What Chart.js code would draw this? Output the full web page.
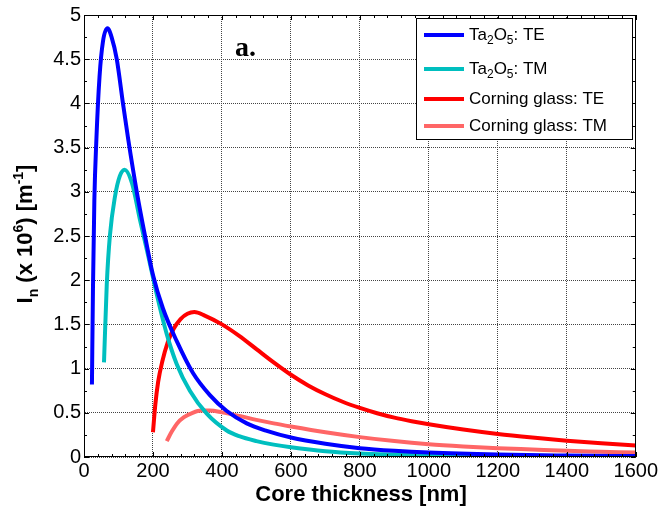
<!DOCTYPE html>
<html>
<head>
<meta charset="utf-8">
<script src="https://cdn.jsdelivr.net/npm/chart.js@4/dist/chart.umd.min.js"></script>
<style>html,body{margin:0;padding:0;background:#fff;}canvas{display:block;}</style>
</head>
<body>
<canvas id="c" width="660" height="510"></canvas>
<script>
// ---- data (core thickness in nm, I_n in 10^6 m^-1) ----
const xTicks = [0,200,400,600,800,1000,1200,1400,1600];
const yTicks = [0,0.5,1,1.5,2,2.5,3,3.5,4,4.5,5];

const taTE_x = [23,26,30,36,45,55,68,80,95,113,128,153,177,200,229,269,316,365,414,472,530,600,700,800,900,1000,1200,1400,1600];
const taTE_y = [0.82,1.9,2.9,3.6,4.3,4.7,4.85,4.75,4.5,4.0,3.6,3.0,2.5,2.06,1.68,1.31,0.95,0.7,0.52,0.38,0.295,0.22,0.15,0.1,0.07,0.05,0.028,0.017,0.01];

const taTM_x = [58,66,75,90,104,118,139,162,186,211,240,269,307,356,414,450,500,550,600,700,800,900,1000,1200,1400,1600];
const taTM_y = [1.07,1.95,2.5,2.95,3.18,3.25,3.1,2.69,2.28,1.84,1.39,1.05,0.75,0.49,0.3,0.235,0.18,0.14,0.11,0.065,0.04,0.027,0.018,0.01,0.007,0.005];

const cgTE_x = [200,207,215,227,243,260,280,300,320,350,400,450,500,550,600,650,700,750,800,850,900,950,1000,1100,1200,1300,1400,1500,1600];
const cgTE_y = [0.28,0.6,0.85,1.08,1.3,1.45,1.56,1.62,1.64,1.6,1.5,1.37,1.22,1.07,0.93,0.81,0.71,0.625,0.555,0.495,0.445,0.405,0.37,0.31,0.26,0.22,0.185,0.155,0.13];

const cgTM_x = [240,255,270,290,315,340,365,400,450,500,550,600,700,800,900,1000,1100,1200,1300,1400,1500,1600];
const cgTM_y = [0.18,0.29,0.38,0.45,0.5,0.525,0.525,0.505,0.465,0.42,0.38,0.345,0.28,0.225,0.18,0.145,0.12,0.1,0.085,0.07,0.06,0.05];

const seriesNames = ['Ta2O5: TE','Ta2O5: TM','Corning glass: TE','Corning glass: TM'];
const seriesColors = ['#0000ff','#00bfbf','#ff0000','#ff6666'];

const pts = (xs, ys) => xs.map((x,i)=>({x:x, y:ys[i]}));
const allSeries = [[taTE_x,taTE_y],[taTM_x,taTM_y],[cgTE_x,cgTE_y],[cgTM_x,cgTM_y]];

const FONT = '"Liberation Sans", Arial, sans-serif';

const decorPlugin = {
  id: 'decor',
  afterDraw(chart) {
    const ctx = chart.ctx;
    const a = chart.chartArea;
    const xs = chart.scales.x, ys = chart.scales.y;
    ctx.save();
    // box
    ctx.strokeStyle = '#000';
    ctx.lineWidth = 1;
    ctx.strokeRect(Math.round(a.left)+0.5, Math.round(a.top)+0.5, Math.round(a.right-a.left)-1, Math.round(a.bottom-a.top)-1);
    // ticks
    ctx.beginPath();
    for (let v = 0; v <= 1600; v += 40) {
      const px = Math.round(xs.getPixelForValue(v)) + 0.5;
      const len = (v % 200 === 0) ? 5 : 3;
      ctx.moveTo(px, a.bottom); ctx.lineTo(px, a.bottom - len);
      ctx.moveTo(px, a.top); ctx.lineTo(px, a.top + len);
    }
    for (let v = 0; v <= 5.0001; v += 0.25) {
      const py = Math.round(ys.getPixelForValue(v)) + 0.5;
      const len = (Math.abs(v*2 - Math.round(v*2)) < 1e-6) ? 5 : 3;
      ctx.moveTo(a.left, py); ctx.lineTo(a.left + len, py);
      ctx.moveTo(a.right, py); ctx.lineTo(a.right - len, py);
    }
    ctx.stroke();

    // legend
    const lx = 416, ly = 18, lw = 216, lh = 121;
    ctx.fillStyle = '#fff';
    ctx.fillRect(lx, ly, lw, lh);
    ctx.strokeStyle = '#000';
    ctx.lineWidth = 1;
    ctx.strokeRect(lx+0.5, ly+0.5, lw, lh);
    const rowsY = [35, 69, 99, 126];
    for (let i = 0; i < 4; i++) {
      const y = rowsY[i];
      ctx.strokeStyle = seriesColors[i];
      ctx.lineWidth = 4;
      ctx.beginPath(); ctx.moveTo(424, y); ctx.lineTo(464, y); ctx.stroke();
      ctx.fillStyle = '#000';
      ctx.textBaseline = 'middle';
      ctx.textAlign = 'left';
      let x = 469;
      const big = '17px ' + FONT, small = '12px ' + FONT;
      if (i < 2) {
        const parts = [['Ta',big,0],['2',small,6],['O',big,0],['5',small,6],[i===0?': TE':': TM',big,0]];
        for (const [t,f,dy] of parts) {
          ctx.font = f; ctx.fillText(t, x, y + dy); x += ctx.measureText(t).width;
        }
      } else {
        ctx.font = big;
        ctx.fillText(seriesNames[i], x, y);
      }
    }

    // "a." label
    ctx.fillStyle = '#000';
    ctx.font = 'bold 28px "Liberation Serif", "Times New Roman", serif';
    ctx.textAlign = 'left';
    ctx.textBaseline = 'alphabetic';
    ctx.fillText('a.', 235, 56);

    // x title
    ctx.font = 'bold 22px ' + FONT;
    ctx.textAlign = 'center';
    ctx.fillText('Core thickness [nm]', 361, 501);

    // y title with sub/superscripts
    ctx.save();
    ctx.translate(32, 234);
    ctx.rotate(-Math.PI/2);
    const B = 'bold 22px ' + FONT, S = 'bold 14px ' + FONT;
    const parts = [['I',B,0],['n',S,6],[' (x 10',B,0],['6',S,-9],[') [m',B,0],['-1',S,-9],[']',B,0]];
    let total = 0;
    for (const [t,f] of parts) { ctx.font = f; total += ctx.measureText(t).width; }
    let x = -total/2;
    ctx.textAlign = 'left';
    for (const [t,f,dy] of parts) {
      ctx.font = f; ctx.fillText(t, x, dy); x += ctx.measureText(t).width;
    }
    ctx.restore();
    ctx.restore();
  }
};

new Chart(document.getElementById('c'), {
  type: 'line',
  data: {
    datasets: allSeries.map((s, i) => ({
      label: seriesNames[i],
      data: pts(s[0], s[1]),
      borderColor: seriesColors[i],
      backgroundColor: seriesColors[i],
      borderWidth: 4,
      pointRadius: 0,
      fill: false,
      cubicInterpolationMode: 'monotone'
    }))
  },
  options: {
    responsive: false,
    animation: false,
    devicePixelRatio: 1,
    layout: { padding: { left: 0, top: 11, right: 24, bottom: 0 } },
    plugins: { legend: { display: false }, tooltip: { enabled: false } },
    scales: {
      x: {
        type: 'linear', min: 0, max: 1600,
        afterBuildTicks: (sc) => { sc.ticks = xTicks.map(v => ({value: v})); },
        afterFit: (sc) => { sc.height = 53; },
        ticks: { color: '#000', font: { family: FONT, size: 20 }, padding: 2, maxRotation: 0, autoSkip: false,
                 callback: (v) => String(v) },
        grid: { color: '#444', lineWidth: 1, drawTicks: false },
        border: { display: true, color: 'rgba(0,0,0,0)', dash: [1, 1] }
      },
      y: {
        type: 'linear', min: 0, max: 5,
        afterBuildTicks: (sc) => { sc.ticks = yTicks.map(v => ({value: v})); },
        afterFit: (sc) => { sc.width = 84; },
        ticks: { color: '#000', font: { family: FONT, size: 20 }, padding: 3, autoSkip: false,
                 callback: (v) => String(v) },
        grid: { color: '#444', lineWidth: 1, drawTicks: false },
        border: { display: true, color: 'rgba(0,0,0,0)', dash: [1, 1] }
      }
    }
  },
  plugins: [decorPlugin]
});
</script>
</body>
</html>
